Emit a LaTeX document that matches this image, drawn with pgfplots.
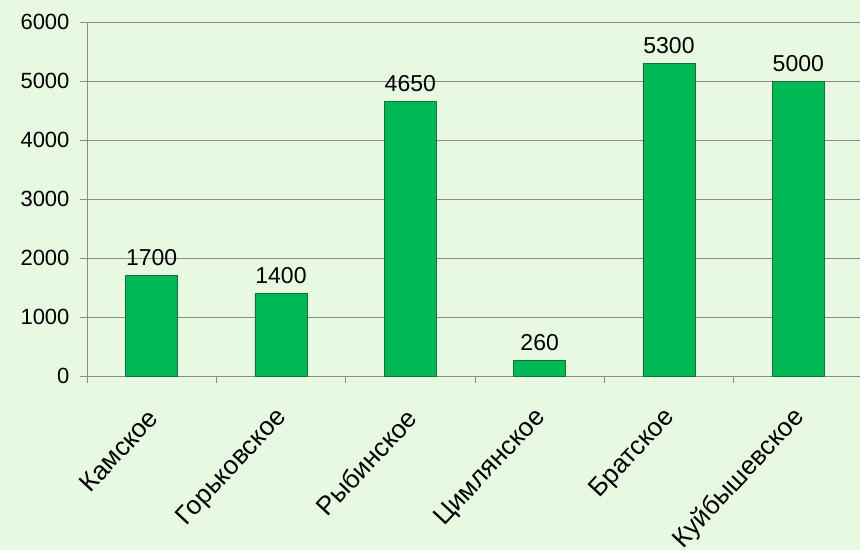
\documentclass[border=0pt]{standalone}
\usepackage{pgfplots}
\pgfplotsset{compat=1.18}
\usepackage{fontspec}
\setmainfont{Liberation Sans}
\definecolor{bg}{RGB}{232,249,226}
\definecolor{barfill}{RGB}{0,184,84}
\definecolor{baredge}{RGB}{25,110,60}
\definecolor{gridc}{RGB}{140,140,140}
\begin{document}
\begin{tikzpicture}
\useasboundingbox (-87pt,-174pt) rectangle (773pt,376pt);
\fill[bg] (-87pt,-174pt) rectangle (773pt,376pt);
\begin{axis}[
  at={(0,0)}, anchor=south west,
  scale only axis, width=776pt, height=354pt,
  xmin=-0.5, xmax=5.5, ymin=0, ymax=6000,
  axis lines*=left,
  axis line style={gridc, line width=0.8pt},
  ytick={0,1000,...,6000},
  ymajorgrids, grid style={gridc, line width=0.8pt},
  xtick={0,...,5},
  xticklabels={Камское,Горьковское,Рыбинское,Цимлянское,Братское,Куйбышевское},
  major x tick style={draw=none},
  minor xtick={-0.5,0.5,...,5.5},
  minor tick style={gridc, line width=0.8pt},
  major tick style={gridc, line width=0.8pt},
  tick align=outside, major tick length=7pt, minor tick length=7pt,
  x tick label style={xshift=4pt, yshift=-28pt, rotate=47, anchor=east, font=\fontsize{26}{30}\selectfont},
  y tick label style={font=\fontsize{22}{26}\selectfont, xshift=-7pt},
  /pgf/number format/assume math mode=true,
  /pgf/number format/1000 sep={},
  scaled y ticks=false,
  ybar, bar width=52pt,
  nodes near coords,
  every node near coord/.append style={font=\fontsize{23}{27}\selectfont, yshift=6pt},
]
\addplot[fill=barfill, draw=baredge, line width=0.8pt] coordinates {(0,1700) (1,1400) (2,4650) (3,260) (4,5300) (5,5000)};
\end{axis}
\end{tikzpicture}
\end{document}
